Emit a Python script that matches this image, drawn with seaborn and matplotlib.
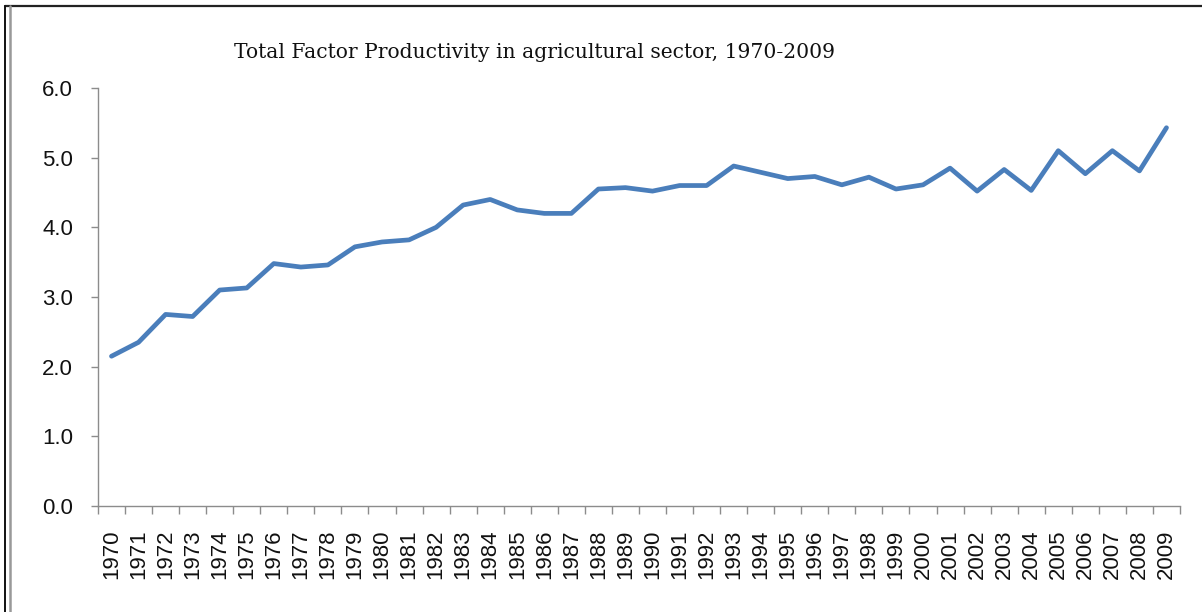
import numpy as np
import pandas as pd
import matplotlib
matplotlib.use("Agg")
import matplotlib.pyplot as plt
from matplotlib.lines import Line2D
from matplotlib.ticker import FixedLocator, FormatStrFormatter
import seaborn as sns

# Data
years = [str(y) for y in range(1970, 2010)]
tfp = [2.15, 2.35, 2.75, 2.72, 3.10, 3.13, 3.48, 3.43, 3.46, 3.72,
       3.79, 3.82, 4.00, 4.32, 4.40, 4.25, 4.20, 4.20, 4.55, 4.57,
       4.52, 4.60, 4.60, 4.88, 4.79, 4.70, 4.73, 4.61, 4.72, 4.55,
       4.61, 4.85, 4.52, 4.83, 4.53, 5.10, 4.77, 5.10, 4.81, 5.43]
y_ticks = [0, 1, 2, 3, 4, 5, 6]

df = pd.DataFrame({"year": years, "tfp": tfp})

sns.set_theme(style="white")
plt.rcParams["font.family"] = ["Liberation Sans", "DejaVu Sans"]

fig = plt.figure(figsize=(12.02, 6.12), dpi=100)
ax = fig.add_axes([0.0815, 0.1732, 0.9002, 0.683])

sns.lineplot(data=df, x="year", y="tfp", ax=ax, color="#4a7ebb",
             linewidth=3.4, sort=False)

# axes look (Excel style)
ax.set_xlim(-0.5, len(years) - 0.5)
ax.set_ylim(0, 6)
ax.set_yticks(y_ticks)
ax.yaxis.set_major_formatter(FormatStrFormatter("%.1f"))
ax.set_xticks(range(len(years)))
ax.set_xticklabels(years, rotation=90)
ax.xaxis.set_minor_locator(FixedLocator(np.arange(-0.5, len(years), 1)))
ax.set_xlabel("")
ax.set_ylabel("")
for side in ["top", "right"]:
    ax.spines[side].set_visible(False)
for side in ["left", "bottom"]:
    ax.spines[side].set_color("#8c8c8c")
    ax.spines[side].set_linewidth(1.0)
ax.tick_params(axis="x", which="major", length=0, pad=17,
               labelsize=16, labelcolor="#111111")
ax.tick_params(axis="x", which="minor", length=5.5, width=1.0,
               color="#8c8c8c", direction="out", bottom=True)
ax.tick_params(axis="y", length=5, width=1.0, color="#8c8c8c",
               direction="out", left=True, pad=13, labelsize=16,
               labelcolor="#111111")
ax.grid(False)

fig.text(0.445, 0.915, "Total Factor Productivity in agricultural sector, 1970-2009",
         ha="center", va="center", fontsize=14.6,
         family=["DejaVu Serif"], color="#111111")

# frame around the picture
fig.add_artist(Line2D([0.004, 1.0], [0.990, 0.990], color="#222222", lw=1.6))
fig.add_artist(Line2D([0.0045, 0.0045], [0.0, 0.990], color="#111111", lw=1.4))
fig.add_artist(Line2D([0.0085, 0.0085], [0.0, 0.990], color="#999999", lw=1.8))

fig.savefig("out.png", dpi=100)
